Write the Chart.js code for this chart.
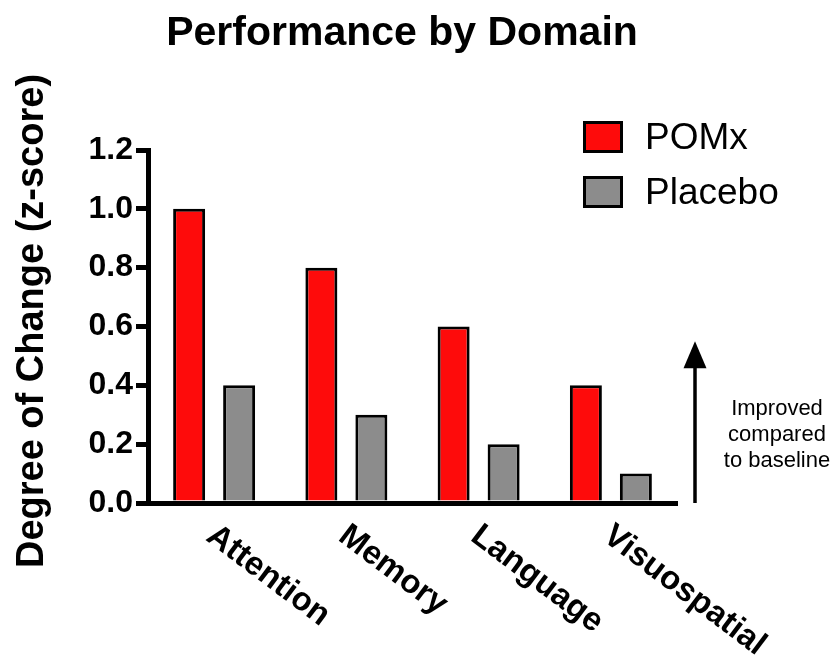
<!DOCTYPE html>
<html>
<head>
<meta charset="utf-8">
<script src="https://cdn.jsdelivr.net/npm/chart.js@4.4.1/dist/chart.umd.min.js"></script>
<style>
  html, body { margin: 0; padding: 0; background: #ffffff; }
  #wrap { width: 840px; height: 660px; position: relative; }
</style>
</head>
<body>
<div id="wrap"><canvas id="c" width="840" height="660"></canvas></div>
<script>
const categories = ['Attention', 'Memory', 'Language', 'Visuospatial'];
const pomxValues = [1.0, 0.8, 0.6, 0.4];
const placeboValues = [0.4, 0.3, 0.2, 0.1];
const yTicks = ['0.0', '0.2', '0.4', '0.6', '0.8', '1.0', '1.2'];
const seriesNames = ['POMx', 'Placebo'];
const chartTitle = 'Performance by Domain';
const yAxisTitle = 'Degree of Change (z-score)';
const noteLines = ['Improved', 'compared', 'to baseline'];

const FONT = "'Liberation Sans', Arial, Helvetica, sans-serif";
const RED = '#FE0B0B';
const GRAY = '#8C8C8C';

const decorations = {
  id: 'decorations',
  afterDraw(chart) {
    const ctx = chart.ctx;
    const area = chart.chartArea;
    const xs = chart.scales.x;
    const ys = chart.scales.y;
    ctx.save();

    // Title
    ctx.fillStyle = '#000';
    ctx.font = 'bold 41px ' + FONT;
    ctx.textAlign = 'center';
    ctx.textBaseline = 'alphabetic';
    ctx.fillText(chartTitle, 402, 45);

    // Y axis title
    ctx.save();
    ctx.font = 'bold 38px ' + FONT;
    ctx.textAlign = 'center';
    ctx.textBaseline = 'alphabetic';
    ctx.translate(43, 321);
    ctx.rotate(-Math.PI / 2);
    ctx.fillText(yAxisTitle, 0, 0);
    ctx.restore();

    // Rotated category labels
    ctx.font = 'bold 33px ' + FONT;
    ctx.textAlign = 'left';
    ctx.textBaseline = 'top';
    chart.data.labels.forEach((lab, i) => {
      const px = xs.getPixelForValue(i);
      ctx.save();
      ctx.translate(px + 6, area.bottom + 16);
      ctx.rotate(37 * Math.PI / 180);
      ctx.fillText(lab, 0, 0);
      ctx.restore();
    });

    // Legend
    const legendTop = [121, 176];
    chart.data.datasets.forEach((ds, i) => {
      const y0 = legendTop[i];
      ctx.fillStyle = ds.backgroundColor;
      ctx.fillRect(583, y0, 40, 32);
      ctx.lineWidth = 3;
      ctx.strokeStyle = '#000';
      ctx.strokeRect(584.5, y0 + 1.5, 37, 29);
      ctx.fillStyle = '#000';
      ctx.font = '37px ' + FONT;
      ctx.textAlign = 'left';
      ctx.textBaseline = 'alphabetic';
      ctx.fillText(ds.label, 645, y0 + 28);
    });

    // Arrow
    const ax = 695;
    const tipY = ys.getPixelForValue(0.55);
    const baseY = ys.getPixelForValue(0);
    ctx.strokeStyle = '#000';
    ctx.lineWidth = 3.5;
    ctx.beginPath();
    ctx.moveTo(ax, baseY);
    ctx.lineTo(ax, tipY + 20);
    ctx.stroke();
    ctx.fillStyle = '#000';
    ctx.beginPath();
    ctx.moveTo(ax, tipY);
    ctx.lineTo(ax - 11.5, tipY + 27);
    ctx.lineTo(ax + 11.5, tipY + 27);
    ctx.closePath();
    ctx.fill();

    // Note text
    ctx.font = '22px ' + FONT;
    ctx.textAlign = 'center';
    ctx.textBaseline = 'alphabetic';
    noteLines.forEach((t, i) => ctx.fillText(t, 777, 415 + i * 26));

    ctx.restore();
  }
};

new Chart(document.getElementById('c'), {
  type: 'bar',
  data: {
    labels: categories,
    datasets: [
      { label: seriesNames[0], data: pomxValues, backgroundColor: RED, borderColor: '#000', borderWidth: 3, borderSkipped: 'start' },
      { label: seriesNames[1], data: placeboValues, backgroundColor: GRAY, borderColor: '#000', borderWidth: 3, borderSkipped: 'start' }
    ]
  },
  options: {
    responsive: false,
    animation: false,
    devicePixelRatio: 1,
    layout: { padding: { top: 150, right: 163, bottom: 0, left: 0 } },
    datasets: { bar: { categoryPercentage: 0.756, barPercentage: 0.64 } },
    plugins: {
      legend: { display: false },
      title: { display: false },
      tooltip: { enabled: false }
    },
    scales: {
      x: {
        offset: true,
        grid: { display: false },
        border: { display: true, color: '#000', width: 5 },
        ticks: { display: false },
        afterFit(scale) { scale.height = 157; }
      },
      y: {
        min: 0,
        max: 1.2,
        grid: { display: true, drawOnChartArea: false, drawTicks: true, tickLength: 12, lineWidth: 5, color: '#000', tickColor: '#000' },
        border: { display: true, color: '#000', width: 5 },
        ticks: {
          stepSize: 0.2,
          padding: 3,
          color: '#000',
          font: { family: FONT, size: 32, weight: 'bold' },
          callback: (v, i) => yTicks[i]
        },
        title: { display: false },
        afterFit(scale) { scale.width = 148; }
      }
    }
  },
  plugins: [decorations]
});
</script>
</body>
</html>
